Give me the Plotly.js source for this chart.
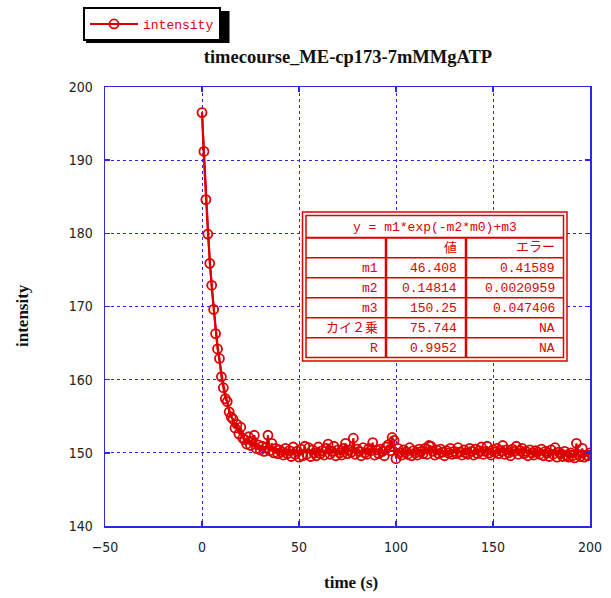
<!DOCTYPE html>
<html>
<head>
<meta charset="utf-8">
<script src="https://cdn.plot.ly/plotly-3.0.1.min.js"></script>
<style>html,body{margin:0;padding:0;background:#fff;}#chart{width:611px;height:598px;}</style>
</head>
<body>
<div id="chart"></div>
<script>
// ---- data ----
var timeS = [];
for (var i = 0; i <= 200; i++) timeS.push(i);
var intensity = [
196.5,191.2,184.6,179.9,175.9,172.9,169.6,166.3,164.2,162.9,
160.4,158.9,157.4,157.0,155.6,154.9,154.6,153.4,153.9,152.6,
153.5,152.0,151.8,151.2,152.2,151.0,151.6,152.4,150.6,151.1,
150.4,150.9,150.2,150.7,152.4,150.3,151.3,150.0,150.6,149.9,
150.4,150.1,149.7,150.6,149.9,150.3,149.5,150.8,149.8,150.2,
149.4,150.5,149.6,150.9,149.8,150.7,149.5,150.4,150.0,149.6,
150.8,149.9,150.3,149.7,150.6,151.2,149.8,150.2,150.9,149.6,
150.4,150.0,149.7,150.6,151.3,149.9,150.4,150.1,152.0,149.8,
150.5,150.2,149.6,150.7,150.0,149.8,150.6,150.3,151.4,149.7,
150.4,149.9,150.5,150.2,149.6,150.8,151.1,150.3,152.1,151.7,
149.2,150.6,150.0,149.7,150.4,150.1,149.8,150.7,149.6,150.3,
150.0,149.7,150.5,150.2,149.9,150.6,149.8,151.0,150.9,150.2,
149.7,150.4,149.9,150.5,150.1,149.6,150.3,150.0,150.6,149.8,
150.2,149.9,150.7,150.1,149.7,150.4,150.0,149.8,150.6,150.2,
149.7,150.5,149.9,150.3,150.8,149.8,150.2,150.9,150.0,149.7,
150.4,150.1,150.6,149.9,150.3,151.0,149.8,150.4,150.0,149.6,
150.5,150.2,150.9,149.8,150.3,150.6,149.9,150.2,149.6,150.4,
150.0,149.7,150.3,150.1,149.8,150.5,149.6,150.2,150.0,149.5,
150.4,149.8,150.7,149.4,150.1,149.9,149.5,150.2,149.6,149.4,
150.0,149.6,149.3,151.3,149.8,149.5,150.6,149.4,149.7,149.6,
150.0
];
// fitted curve
var fitT = [0,1,2,3,4,5,6,7,8,9,10,12,14,16,18,20,22,25,28,32,36,40,50,60,80,100,150,200];
var fitY = [196.6,190.3,185.2,180.4,176.4,172.8,169.8,167.1,164.7,162.6,160.9,158.1,155.9,154.4,153.3,152.5,151.9,151.4,151.0,150.7,150.5,150.4,150.3,150.25,150.25,150.25,150.25,150.25];

var tblTitle = "y = m1*exp(-m2*m0)+m3";
var tblHead = ["", "値", "エラー"];
var tblRows = ["m1", "m2", "m3", "カイ２乗", "R"];
var tblVal = ["46.408", "0.14814", "150.25", "75.744", "0.9952"];
var tblErr = ["0.41589", "0.0020959", "0.047406", "NA", "NA"];

var xTicks = [-50, 0, 50, 100, 150, 200];
var yTicks = [140, 150, 160, 170, 180, 190, 200];

// ---- layout helpers (pixel -> paper) ----
var W = 611, H = 598, L = 105, R = 21, T = 87, B = 72;
var PW = W - L - R, PH = H - T - B;
function px(x) { return (x - L) / PW; }
function py(y) { return (H - B - y) / PH; }

var RED = '#dd0000';
var BLUE = '#2a2ae0';
var monoFont = 'Liberation Mono, DejaVu Sans Mono, Noto Sans CJK JP, monospace';
var serifFont = 'Liberation Serif, Times New Roman, serif';

var traces = [
  {
    x: fitT, y: fitY, type: 'scatter', mode: 'lines', line: {color: RED, width: 2.2, shape: 'spline'},
    showlegend: false, hoverinfo: 'skip'
  },
  {
    x: timeS, y: intensity, type: 'scatter', mode: 'lines+markers', name: 'intensity',
    line: {color: RED, width: 2},
    marker: {symbol: 'circle-open', size: 9, color: RED, line: {color: RED, width: 1.8}}
  }
];

var shapes = [];
var annotations = [];
// legend shadow
shapes.push({type: 'rect', xref: 'paper', yref: 'paper', x0: px(86), x1: px(229.5), y0: py(43), y1: py(11),
  fillcolor: '#000', line: {width: 0}, layer: 'below'});

// table box
var tx0 = 302.5, tx1 = 567, ty0 = 212, ty1 = 361;
shapes.push({type: 'rect', xref: 'paper', yref: 'paper', x0: px(tx0), x1: px(tx1), y0: py(ty1), y1: py(ty0),
  fillcolor: '#fff', line: {color: RED, width: 1.5}, layer: 'above'});
shapes.push({type: 'rect', xref: 'paper', yref: 'paper', x0: px(306), x1: px(563.5), y0: py(357.5), y1: py(215.5),
  fillcolor: 'rgba(0,0,0,0)', line: {color: RED, width: 1.5}, layer: 'above'});
var rowLines = [237.7, 257.7, 277.7, 297.7, 317.7, 337.7];
rowLines.forEach(function (yy, k) {
  shapes.push({type: 'line', xref: 'paper', yref: 'paper', x0: px(306), x1: px(563.5), y0: py(yy), y1: py(yy),
    line: {color: RED, width: k === 0 ? 2 : 1.5}, layer: 'above'});
});
[386, 466].forEach(function (xx) {
  shapes.push({type: 'line', xref: 'paper', yref: 'paper', x0: px(xx), x1: px(xx), y0: py(357.5), y1: py(237.7),
    line: {color: RED, width: 2.5}, layer: 'above'});
});

function tblText(text, xPix, yPix, anchor) {
  annotations.push({xref: 'paper', yref: 'paper', x: px(xPix), y: py(yPix), text: text, showarrow: false,
    xanchor: anchor, yanchor: 'middle', font: {family: monoFont, size: 13, color: RED}});
}
tblText(tblTitle, 434.5, 227, 'center');
tblText(tblHead[1], 459, 248, 'right');
tblText(tblHead[2], 557, 248, 'right');
for (var r = 0; r < tblRows.length; r++) {
  var yc = 268 + r * 20;
  tblText(tblRows[r], 380, yc, 'right');
  tblText(tblVal[r], 459, yc, 'right');
  tblText(tblErr[r], 557, yc, 'right');
}

// axis titles as annotations at fixed pixel spots
annotations.push({xref: 'paper', yref: 'paper', x: px(351), y: py(582), text: 'time (s)', showarrow: false,
  xanchor: 'center', yanchor: 'middle', font: {family: serifFont, size: 17, color: '#111', weight: 'bold'}});
annotations.push({xref: 'paper', yref: 'paper', x: px(22), y: py(316), text: 'intensity', showarrow: false, textangle: -90,
  xanchor: 'center', yanchor: 'middle', font: {family: serifFont, size: 17, color: '#111', weight: 'bold'}});

var axisCommon = {
  showline: true, linecolor: BLUE, linewidth: 1.5, mirror: 'ticks',
  ticks: 'inside', ticklen: 5, tickcolor: BLUE, tickwidth: 1.5,
  showgrid: true, gridcolor: BLUE, griddash: 'dot', gridwidth: 1,
  zeroline: false, automargin: false,
  tickfont: {family: 'Liberation Sans Narrow, DejaVu Sans Condensed, sans-serif', size: 14, color: '#222'},
  ticklabelstandoff: 8
};

var layout = {
  width: W, height: H,
  margin: {l: L, r: R, t: T, b: B, pad: 0, autoexpand: false},
  paper_bgcolor: '#fff', plot_bgcolor: '#fff',
  title: {text: 'timecourse_ME-cp173-7mMMgATP', x: 348 / W, xanchor: 'center', y: 1 - 57 / H, yanchor: 'middle',
    font: {family: serifFont, size: 18.5, color: '#111', weight: 'bold'}},
  xaxis: Object.assign({}, axisCommon, {range: [-50, 200], tickvals: xTicks}),
  yaxis: Object.assign({}, axisCommon, {range: [140, 200], tickvals: yTicks}),
  legend: {xref: 'container', yref: 'container', x: 83 / W, y: 1 - 7 / H, xanchor: 'left', yanchor: 'top',
    bgcolor: '#fff', bordercolor: '#000', borderwidth: 2, itemwidth: 48,
    entrywidth: 94, entrywidthmode: 'pixels',
    font: {family: monoFont, size: 13, color: RED}},
  shapes: shapes,
  annotations: annotations,
  showlegend: true
};

Plotly.newPlot('chart', traces, layout, {displayModeBar: false, staticPlot: true});
</script>
</body>
</html>
